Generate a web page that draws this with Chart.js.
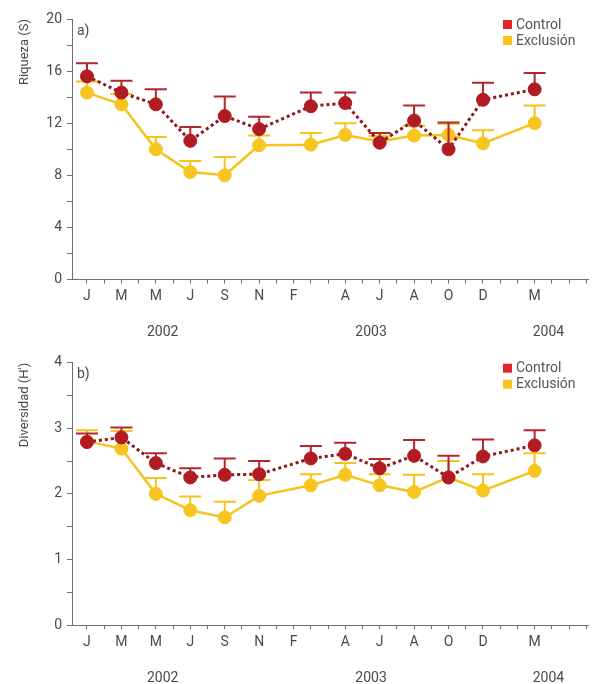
<!DOCTYPE html>
<html>
<head>
<meta charset="utf-8">
<script src="https://cdn.jsdelivr.net/npm/chart.js@4"></script>
<style>
  body { margin: 0; background: #fff; }
  .panel { position: absolute; left: 0; width: 596px; height: 342px; }
</style>
</head>
<body>
<div class="panel" style="top:0"><canvas id="chartA" width="596" height="342"></canvas></div>
<div class="panel" style="top:342px"><canvas id="chartB" width="596" height="342"></canvas></div>
<script>
// sampling dates, in months from January 2002
const samplePos = [0, 2, 4, 6, 8, 10, 13, 15, 17, 19, 21, 23, 26];
const monthTicks = [0, 2, 4, 6, 8, 10, 12, 15, 17, 19, 21, 23, 26];
const monthLabels = ['J', 'M', 'M', 'J', 'S', 'N', 'F', 'A', 'J', 'A', 'O', 'D', 'M'];
const yearLabels = ['2002', '2003', '2004'];
const yearPos = [4.4, 16.5, 26.8];
const seriesNames = ['Control', 'Exclusión'];

// a) Riqueza (S)
const richControl = [15.6, 14.35, 13.45, 10.65, 12.55, 11.55, 13.3, 13.55, 10.5, 12.2, 10.0, 13.8, 14.6];
const richControlErr = [1.0, 0.9, 1.15, 1.05, 1.5, 0.95, 1.05, 0.8, 0.75, 1.15, 2.05, 1.3, 1.25];
const richExcl = [14.35, 13.45, 10.0, 8.25, 8.0, 10.3, 10.35, 11.1, 10.6, 11.05, 11.1, 10.45, 12.0];
const richExclErr = [0.85, 0.8, 0.95, 0.85, 1.4, 0.75, 0.9, 0.9, 0.4, 0.75, 0.85, 1.0, 1.35];

// b) Diversidad (H')
const divControl = [2.79, 2.86, 2.47, 2.25, 2.29, 2.30, 2.54, 2.61, 2.39, 2.58, 2.25, 2.57, 2.74];
const divControlErr = [0.13, 0.15, 0.15, 0.14, 0.25, 0.20, 0.19, 0.17, 0.14, 0.24, 0.33, 0.26, 0.23];
const divExcl = [2.80, 2.69, 2.00, 1.75, 1.64, 1.97, 2.13, 2.29, 2.13, 2.03, 2.25, 2.05, 2.35];
const divExclErr = [0.17, 0.27, 0.24, 0.21, 0.24, 0.24, 0.17, 0.18, 0.17, 0.26, 0.25, 0.25, 0.27];

const FONT = 'Roboto, "DejaVu Sans", sans-serif';
const TEXT = '#4a4a4a';
const AXIS = '#6e6e6e';

function points(vals) {
    return vals.map((v, i) => ({ x: samplePos[i], y: v }));
}

// upward-only error bars, drawn just before each dataset
const errorBars = {
    id: 'errorBars',
    beforeDatasetDraw(chart, args) {
        const ds = chart.data.datasets[args.index];
        if (!ds.errors) return;
        const ctx = chart.ctx;
        const xs = chart.scales.x, ys = chart.scales.y;
        ctx.save();
        ctx.strokeStyle = ds.errorColor;
        ctx.lineWidth = 2;
        ds.data.forEach((p, i) => {
            const px = xs.getPixelForValue(p.x);
            const y0 = ys.getPixelForValue(p.y);
            const y1 = ys.getPixelForValue(p.y + ds.errors[i]);
            ctx.beginPath();
            ctx.moveTo(px, y0);
            ctx.lineTo(px, y1);
            ctx.moveTo(px - 11, y1);
            ctx.lineTo(px + 11, y1);
            ctx.stroke();
        });
        ctx.restore();
    }
};

// panel letter, legend and year labels
const extras = {
    id: 'extras',
    afterDraw(chart, args, opts) {
        const ctx = chart.ctx;
        const area = chart.chartArea;
        ctx.save();
        ctx.fillStyle = TEXT;
        ctx.font = '14px ' + FONT;
        ctx.textBaseline = 'middle';
        ctx.textAlign = 'left';
        ctx.fillText(opts.letter, area.left + 5, area.top + 12);

        const keyColors = ['#e3242b', '#f7c41f'];
        seriesNames.forEach((name, i) => {
            const ty = area.top + 1 + i * 16;
            ctx.fillStyle = keyColors[i];
            ctx.fillRect(503, ty, 9, 9);
            ctx.fillStyle = '#555';
            ctx.fillText(name, 516, ty + 5);
        });

        ctx.textAlign = 'center';
        ctx.fillStyle = TEXT;
        ctx.font = '14px ' + FONT;
        yearLabels.forEach((y, i) => {
            ctx.fillText(y, chart.scales.x.getPixelForValue(yearPos[i]), area.bottom + 53);
        });
        ctx.restore();
    }
};

function makeChart(id, cfg) {
    new Chart(document.getElementById(id), {
        type: 'line',
        data: {
            datasets: [{
                label: seriesNames[0],
                data: points(cfg.control),
                errors: cfg.controlErr,
                errorColor: '#b3262c',
                borderColor: '#8e171c',
                borderWidth: 3,
                borderDash: [3, 3],
                pointRadius: 6.5,
                pointBackgroundColor: '#b11c23',
                pointBorderColor: '#b11c23',
                pointBorderWidth: 1,
                tension: 0
            }, {
                label: seriesNames[1],
                data: points(cfg.excl),
                errors: cfg.exclErr,
                errorColor: '#f6c21c',
                borderColor: '#f6c21c',
                borderWidth: 2.5,
                pointRadius: 6.5,
                pointBackgroundColor: '#f8c41f',
                pointBorderColor: '#f8c41f',
                pointBorderWidth: 1,
                tension: 0
            }]
        },
        options: {
            responsive: false,
            animation: false,
            layout: { padding: { left: 0, right: 8, top: cfg.padTop, bottom: 0 } },
            plugins: {
                legend: { display: false },
                tooltip: { enabled: false },
                extras: { letter: cfg.letter }
            },
            scales: {
                x: {
                    type: 'linear',
                    min: -0.87,
                    max: 29.1,
                    afterFit: s => { s.height = cfg.xHeight; },
                    border: { display: true, color: AXIS, width: 1 },
                    grid: { drawOnChartArea: false, tickLength: 4, color: AXIS },
                    ticks: {
                        stepSize: 1,
                        includeBounds: false,
                        autoSkip: false,
                        maxRotation: 0,
                        padding: 5,
                        color: TEXT,
                        font: { family: FONT, size: 14 },
                        callback: v => {
                            const k = monthTicks.indexOf(v);
                            return k >= 0 ? monthLabels[k] : '';
                        }
                    }
                },
                y: {
                    min: 0,
                    max: cfg.yMax,
                    afterFit: s => { s.width = 72; },
                    border: { display: true, color: AXIS, width: 1 },
                    grid: { drawOnChartArea: false, tickLength: 5, color: AXIS },
                    title: {
                        display: true,
                        text: cfg.yTitle,
                        align: 'end',
                        color: TEXT,
                        font: { family: FONT, size: 13 },
                        padding: { top: 17, bottom: 0 }
                    },
                    ticks: {
                        stepSize: cfg.yStep,
                        padding: 5,
                        color: TEXT,
                        font: { family: FONT, size: 14 },
                        callback: v => (v % cfg.yLabelEvery === 0 ? v : '')
                    }
                }
            }
        },
        plugins: [errorBars, extras]
    });
}

makeChart('chartA', {
    control: richControl, controlErr: richControlErr,
    excl: richExcl, exclErr: richExclErr,
    yMax: 20, yStep: 2, yLabelEvery: 4,
    yTitle: 'Riqueza (S)', letter: 'a)',
    padTop: 19, xHeight: 62.5
});

makeChart('chartB', {
    control: divControl, controlErr: divControlErr,
    excl: divExcl, exclErr: divExclErr,
    yMax: 4, yStep: 0.5, yLabelEvery: 1,
    yTitle: "Diversidad (H')", letter: 'b)',
    padTop: 20.7, xHeight: 59
});
</script>
</body>
</html>
